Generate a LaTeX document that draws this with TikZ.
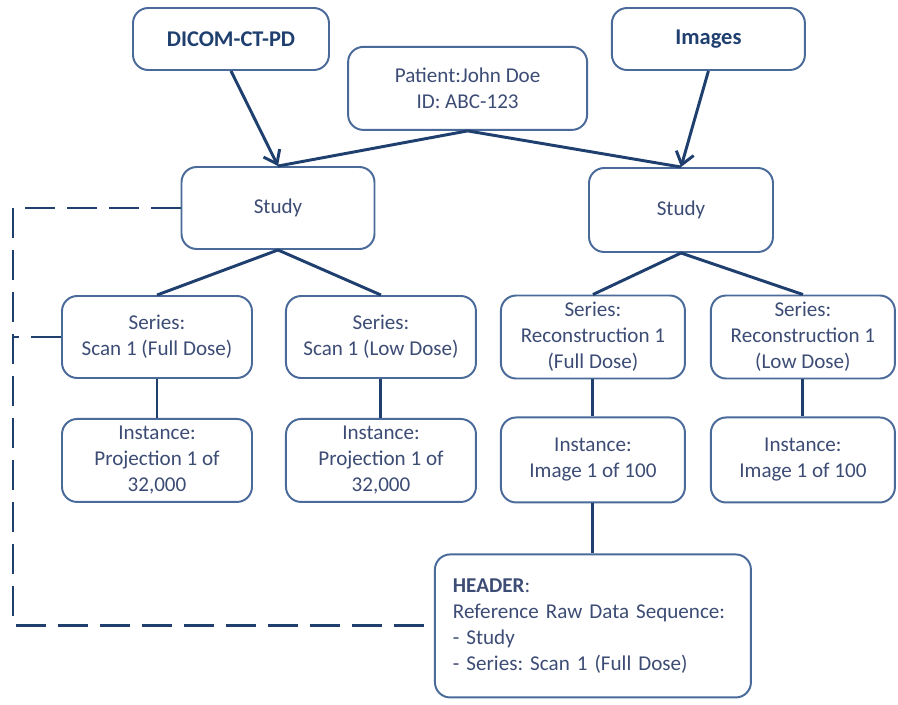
\documentclass[tikz,border=0pt]{standalone}
\usepackage{fontspec}
\setmainfont{Carlito}
\usetikzlibrary{arrows.meta,positioning}
\definecolor{boxline}{HTML}{4A6A9A}
\definecolor{conline}{HTML}{1F3F6F}
\definecolor{txt}{HTML}{3C4C74}
\definecolor{titletxt}{HTML}{1F3F6F}
\frenchspacing
\begin{document}
\begin{tikzpicture}[
    box/.style={rectangle, draw=boxline, line width=1.4pt, rounded corners=0.38cm, minimum width=4.75cm, minimum height=2.05cm, align=center, text=txt, font=\fontsize{15}{18.5}\selectfont},
    titlebox/.style={box, minimum height=1.55cm, text=titletxt, font=\fontsize{16}{19}\selectfont\bfseries},
    link/.style={draw=conline, line width=2.1pt},
    arrow/.style={link, -{Straight Barb[length=3mm, width=4.5mm]}},
    dashlink/.style={link, dash pattern=on 0.75cm off 0.3cm},
    node distance=0.975cm
]
    \useasboundingbox (0,0) rectangle (22.45,-17.6);

    \node[titlebox, minimum width=4.9cm] (dicom) at (5.775,-0.975) {DICOM-CT-PD};
    \node[titlebox, minimum width=4.825cm] (images) at (17.71,-0.975) {Images};
    \node[box, minimum width=5.975cm, minimum height=2.075cm] (patient) at (11.69,-2.21) {Patient:John Doe\\ID: ABC-123};
    \node[box, minimum width=4.825cm] (studyl) at (6.95,-5.2) {Study};
    \node[box, minimum width=4.6cm, minimum height=2.1cm] (studyr) at (17.025,-5.25) {Study};

    \node[box] (sfull) at (3.925,-8.425) {Series:\\Scan 1 (Full Dose)};
    \node[box, right=0.8cm of sfull] (slow) {Series:\\Scan 1 (Low Dose)};
    \node[box, minimum width=4.6cm, minimum height=2.075cm, right=0.575cm of slow] (rfull) {Series:\\Reconstruction 1\\(Full Dose)};
    \node[box, minimum width=4.6cm, minimum height=2.075cm, right=0.6cm of rfull] (rlow) {Series:\\Reconstruction 1\\(Low Dose)};

    \node[box, minimum height=2.075cm, below=of sfull] (ifull) {Instance:\\Projection 1 of\\32,000};
    \node[box, minimum height=2.075cm, below=of slow] (ilow) {Instance:\\Projection 1 of\\32,000};
    \node[box, minimum width=4.6cm, minimum height=2.125cm, below=0.925cm of rfull] (irfull) {Instance:\\Image 1 of 100};
    \node[box, minimum width=4.6cm, minimum height=2.125cm, below=0.925cm of rlow] (irlow) {Instance:\\Image 1 of 100};

    \node[box, minimum width=7.9cm, minimum height=3.575cm, text width=7.0cm, inner xsep=0.45cm, align=left, below=1.25cm of irfull] (header) {\textbf{HEADER}:\\Reference Raw Data Sequence:\\ - Study\\ - Series: Scan 1 (Full Dose)};

    \draw[arrow] (dicom.south) -- (studyl.north);
    \draw[arrow] (images.south) -- (studyr.north);
    \draw[link] (patient.south) -- (studyl.north);
    \draw[link] (patient.south) -- (studyr.north);

    \draw[link] (studyl.south) -- (sfull.north);
    \draw[link] (studyl.south) -- (slow.north);
    \draw[link] (studyr.south) -- (rfull.north);
    \draw[link] (studyr.south) -- (rlow.north);

    \draw[link] (sfull) -- (ifull);
    \draw[link] (slow) -- (ilow);
    \draw[link] (rfull) -- (irfull);
    \draw[link] (rlow) -- (irlow);
    \draw[link] (irfull) -- (header);

    \coordinate (dashcorner) at (0.325,-5.2);
    \draw[dashlink] (studyl.west) -- (dashcorner) |- (header.west);
    \draw[dashlink] (sfull.west) -- (sfull.west -| dashcorner);
\end{tikzpicture}
\end{document}
